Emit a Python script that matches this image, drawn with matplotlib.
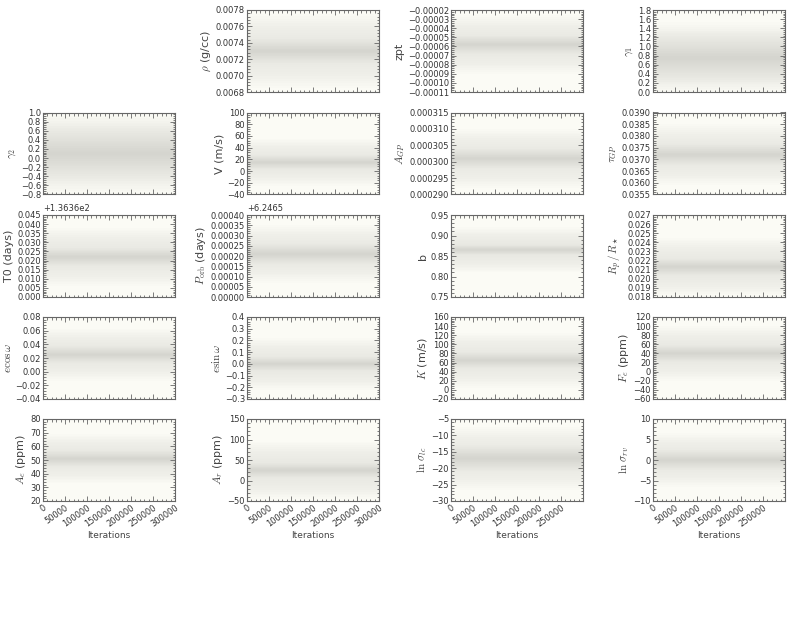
import matplotlib
matplotlib.use("Agg")
import matplotlib.pyplot as plt
from matplotlib.ticker import MultipleLocator, AutoMinorLocator, ScalarFormatter

plt.rcParams['mathtext.fontset'] = 'cm'
plt.rcParams['font.family'] = ['DejaVu Sans']

# ---- data (per-panel trace summary) ----
labels = [r'$\rho$ (g/cc)', 'zpt', r'$\gamma_1$',
          r'$\gamma_2$', 'V (m/s)', r'$A_{GP}$', r'$\tau_{GP}$',
          'T0 (days)', r'$P_{\rm orb}$ (days)', 'b', r'$R_p\,/\,R_\star$',
          r'$e\cos\omega$', r'$e\sin\omega$', r'$K$ (m/s)', r'$F_e$ (ppm)',
          r'$A_e$ (ppm)', r'$A_r$ (ppm)', r'$\ln\,\sigma_{lc}$', r'$\ln\,\sigma_{rv}$']
ymins = [0.0068, -0.00011, 0.0, -0.8, -40, 0.000290, 0.0355,
         136.36, 6.2465, 0.75, 0.018, -0.04, -0.3, -20, -60, 20, -50, -30, -10]
ymaxs = [0.0078, -0.00002, 1.8, 1.0, 100, 0.000315, 0.0390,
         136.405, 6.2469, 0.95, 0.027, 0.08, 0.4, 160, 120, 80, 150, -5, 10]
ysteps = [0.0002, 0.00001, 0.2, 0.2, 20, 0.000005, 0.0005,
          0.005, 0.00005, 0.05, 0.001, 0.02, 0.1, 20, 20, 10, 50, 5, 5]
y_offsets = [None, None, None, None, None, None, None,
             136.36, 6.2465, None, None, None, None, None, None, None, None, None, None]
centers = [0.0073, -0.000058, 0.75, 0.10, 15, 0.000301, 0.0372,
           136.382, 6.24671, 0.865, 0.0213, 0.025, 0.0, 65, 40, 51, 25, -17, 0.0]
inner_hw = [0.00015, 0.00001, 0.6, 0.65, 12, 0.000003, 0.00045,
            0.005, 0.00005, 0.012, 0.0009, 0.012, 0.06, 18, 18, 6, 18, 4.0, 2.5]
outer_hw = [0.00045, 0.000032, 0.78, 0.88, 40, 0.000009, 0.0013,
            0.016, 0.00014, 0.055, 0.0032, 0.038, 0.22, 60, 60, 18, 70, 9.5, 6.5]
iterations = [0, 300000]
col_xmax = [300000, 300000, 299999, 299999]
xtick_step = 50000

W, H = 806, 627
fig = plt.figure(figsize=(W / 100, H / 100), dpi=100)
fig.patch.set_facecolor('white')

col_left = [43, 247, 451, 653]
row_top = [10, 112.5, 215, 317, 419]
aw, ah = 132, 82

tick_color = '#333333'
spine_color = '#666666'
n_layers = 16

idx = 0
for r in range(5):
    for c in range(4):
        if r == 0 and c == 0:
            continue
        i = idx
        idx += 1
        left = col_left[c] / W
        bottom = 1 - (row_top[r] + ah) / H
        ax = fig.add_axes([left, bottom, aw / W, ah / H])
        ax.set_facecolor('#fbfbf5')
        x = iterations
        cen = centers[i]
        for k in range(n_layers):
            frac = 1.0 - k / n_layers
            hw = outer_hw[i] * frac
            ax.fill_between(x, [cen - hw] * 2, [cen + hw] * 2,
                            color='#9a9a94', alpha=0.013, lw=0)
        for k in range(n_layers):
            frac = 1.0 - k / n_layers
            hw = inner_hw[i] * frac
            ax.fill_between(x, [cen - hw] * 2, [cen + hw] * 2,
                            color='#8a8a84', alpha=0.009, lw=0)
        ax.set_xlim(0, col_xmax[c])
        ax.set_ylim(ymins[i], ymaxs[i])
        ax.xaxis.set_major_locator(MultipleLocator(xtick_step))
        ax.xaxis.set_minor_locator(AutoMinorLocator(5))
        ax.yaxis.set_major_locator(MultipleLocator(ysteps[i]))
        ax.yaxis.set_minor_locator(AutoMinorLocator(5))
        if y_offsets[i] is not None:
            fmt = ScalarFormatter(useOffset=y_offsets[i])
            ax.yaxis.set_major_formatter(fmt)
        ax.tick_params(which='both', direction='in', top=True, right=True,
                       colors=spine_color, labelcolor=tick_color, labelsize=6,
                       width=0.6)
        ax.tick_params(which='major', length=3.5, pad=1.5)
        ax.tick_params(which='minor', length=1.8)
        for s in ax.spines.values():
            s.set_color(spine_color)
            s.set_linewidth(0.8)
        ax.yaxis.get_offset_text().set_fontsize(6)
        ax.yaxis.get_offset_text().set_color(tick_color)
        ax.set_ylabel(labels[i], fontsize=8, color='#444444', labelpad=2)
        if r == 4:
            for lab in ax.get_xticklabels():
                lab.set_rotation(35)
                lab.set_ha('right')
                lab.set_rotation_mode('anchor')
            ax.set_xlabel('Iterations', fontsize=6.5, color='#444444', labelpad=2)
        else:
            ax.set_xticklabels([])

fig.savefig('out.png', dpi=100, facecolor='white')
